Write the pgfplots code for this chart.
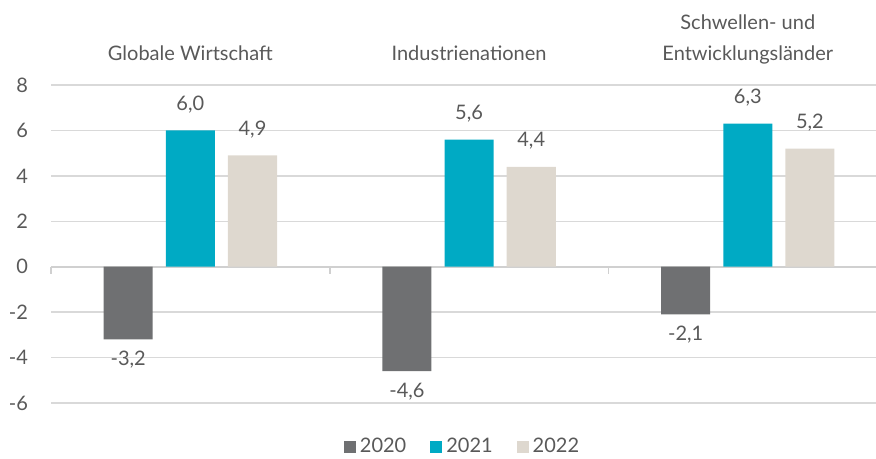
\documentclass[border=0pt]{standalone}
\usepackage{pgfplots}
\pgfplotsset{compat=1.18}
\usepackage{pgfplotstable}
\usepackage{fontspec}
\setmainfont{Lato}
\usetikzlibrary{calc}
\definecolor{cGray}{HTML}{6F7072}
\definecolor{cCyan}{HTML}{00AAC4}
\definecolor{cBeige}{HTML}{DED8CF}
\definecolor{cGrid}{HTML}{D9D9D9}
\definecolor{cZero}{HTML}{D0D0D0}
\definecolor{cText}{HTML}{595959}
\pgfplotstableread{
g  y2020 y2021 y2022
0  -3.2  6.0   4.9
1  -4.6  5.6   4.4
2  -2.1  6.3   5.2
}\data
\begin{document}
\begin{tikzpicture}[font=\fontsize{10}{12}\selectfont, text=cText]
\begin{axis}[
  scale only axis, width=412.5pt, height=159pt,
  xmin=-0.5, xmax=2.46, ymin=-6, ymax=8,
  ytick={-6,-4,...,8}, xtick=\empty,
  ymajorgrids, grid style={cGrid, line width=0.75pt},
  axis line style={draw=none}, major tick length=0pt,
  yticklabel style={xshift=-8pt, text=cText},
  /pgf/number format/.cd, assume math mode=true, use comma, fixed, fixed zerofill, precision=1,
  /pgfplots/.cd,
  yticklabel={\pgfmathprintnumber[precision=0,fixed zerofill=false]{\tick}},
  ybar, bar width=0.176,
  nodes near coords, nodes near coords align=vertical,
  every node near coord/.append style={text=cText, font=\fontsize{10}{12}\selectfont},
  legend columns=3,
  legend style={at={(0.5,0)}, anchor=center, yshift=-22pt, draw=none, fill=none,
    font=\fontsize{10}{12}\selectfont, text=cText,
    /tikz/every even column/.append style={column sep=10pt}},
  legend image code/.code={\fill[#1,draw=none] (0pt,-3pt) rectangle (6pt,3pt);},
  clip=false,
]
\draw[cZero, line width=0.9pt] (axis cs:-0.5,0) -- (axis cs:2.46,0);
\draw[cZero, line width=0.9pt] (axis cs:-0.5,0) -- ([yshift=-3.5pt]axis cs:-0.5,0);
\draw[cZero, line width=0.9pt] (axis cs:0.5,0) -- ([yshift=-3.5pt]axis cs:0.5,0);
\draw[cZero, line width=0.9pt] (axis cs:1.5,0) -- ([yshift=-3.5pt]axis cs:1.5,0);
\addplot[fill=cGray, draw=none, bar shift=-0.223, every node near coord/.append style={yshift=-2.5pt}] table[x=g, y=y2020] {\data};
\addplot[fill=cCyan, draw=none, bar shift=0, every node near coord/.append style={yshift=5pt}] table[x=g, y=y2021] {\data};
\addplot[fill=cBeige, draw=none, bar shift=0.223, every node near coord/.append style={yshift=5pt}] table[x=g, y=y2022] {\data};
\legend{2020,2021,2022}
\node[anchor=base] at (axis cs:0,8) [yshift=12pt] {Globale Wirtschaft};
\node[anchor=base] at (axis cs:1,8) [yshift=12pt] {Industrienationen};
\node[anchor=base] at (axis cs:2,8) [yshift=12pt] {Entwicklungsländer};
\node[anchor=base] at (axis cs:2,8) [yshift=27.5pt] {Schwellen- und};
\coordinate (bl) at (rel axis cs:0,0);
\coordinate (tr) at (rel axis cs:1,1);
\end{axis}
\pgfresetboundingbox
\path ($(bl)+(-25.5pt,-28pt)$) rectangle ($(tr)+(0,42.5pt)$);
\end{tikzpicture}
\end{document}
